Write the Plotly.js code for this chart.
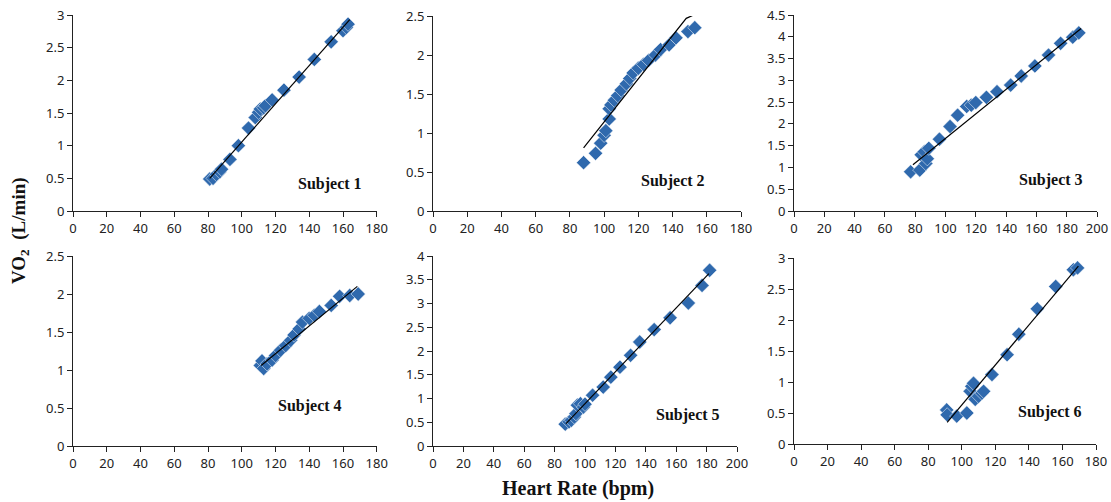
<!DOCTYPE html>
<html>
<head>
<meta charset="utf-8">
<script src="https://cdn.plot.ly/plotly-3.0.1.min.js"></script>
<style>html,body{margin:0;padding:0;background:#fff;}#chart{width:1111px;height:502px;}</style>
</head>
<body>
<div id="chart"></div>
<script>
// Subject 1
var s1HR = [81, 83, 85, 87, 88, 93, 98, 104, 108, 110, 111, 113, 114, 118, 125, 134, 143, 153, 160, 162, 163];
var s1VO2 = [0.49, 0.50, 0.56, 0.60, 0.64, 0.79, 1.00, 1.27, 1.43, 1.51, 1.56, 1.58, 1.61, 1.70, 1.85, 2.05, 2.32, 2.59, 2.76, 2.81, 2.86];
var s1FitHR = [81, 164];
var s1FitVO2 = [0.50, 2.93];
// Subject 2
var s2HR = [88, 95, 98, 100, 101, 103, 103, 104, 106, 108, 110, 113, 115, 117, 120, 123, 126, 130, 133, 138, 142, 149, 153];
var s2VO2 = [0.62, 0.74, 0.87, 0.97, 1.03, 1.18, 1.31, 1.36, 1.42, 1.48, 1.55, 1.63, 1.70, 1.77, 1.83, 1.88, 1.93, 2.00, 2.07, 2.13, 2.22, 2.30, 2.35];
var s2FitHR = [88, 148, 152];
var s2FitVO2 = [0.81, 2.47, 2.51];
// Subject 3
var s3HR = [77, 83, 84, 86, 87, 88, 89, 96, 103, 108, 114, 117, 120, 127, 134, 143, 150, 159, 168, 176, 184, 188];
var s3VO2 = [0.90, 0.94, 1.29, 1.36, 1.09, 1.20, 1.44, 1.65, 1.94, 2.20, 2.40, 2.43, 2.49, 2.61, 2.74, 2.89, 3.10, 3.33, 3.58, 3.85, 3.99, 4.09];
var s3FitHR = [78.5, 189.5];
var s3FitVO2 = [1.06, 4.19];
// Subject 4
var s4HR = [111, 112, 113, 115, 118, 120, 123, 126, 129, 131, 134, 136, 140, 143, 146, 153, 158, 164, 169];
var s4VO2 = [1.06, 1.12, 1.02, 1.08, 1.13, 1.19, 1.26, 1.32, 1.39, 1.46, 1.54, 1.63, 1.68, 1.72, 1.77, 1.85, 1.97, 1.98, 2.00];
var s4FitHR = [111.5, 168.5];
var s4FitVO2 = [1.06, 2.10];
// Subject 5
var s5HR = [87, 89.5, 91, 93, 94, 95, 97, 99, 100, 105, 112, 117, 123, 130, 136, 145.5, 156, 168, 177, 182];
var s5VO2 = [0.46, 0.51, 0.54, 0.61, 0.68, 0.86, 0.89, 0.82, 0.88, 1.07, 1.24, 1.45, 1.66, 1.91, 2.19, 2.45, 2.70, 3.01, 3.38, 3.70];
var s5FitHR = [87.5, 181.5];
var s5FitVO2 = [0.47, 3.63];
// Subject 6
var s6HR = [91, 91.3, 97, 103, 105, 106, 107, 108, 110, 112, 113, 118, 127, 134, 145, 156, 166.5, 169];
var s6VO2 = [0.55, 0.47, 0.45, 0.50, 0.85, 0.93, 0.98, 0.72, 0.77, 0.82, 0.85, 1.12, 1.44, 1.77, 2.18, 2.54, 2.81, 2.84];
var s6FitHR = [91.3, 169.5];
var s6FitVO2 = [0.35, 2.87];

var subjectLabels = ['Subject 1', 'Subject 2', 'Subject 3', 'Subject 4', 'Subject 5', 'Subject 6'];
var xTitle = 'Heart Rate (bpm)';
var yTitle = 'VO<sub>2</sub>  (L/min)';

var W = 1111, H = 502;
function px(x){ return x / W; }
function py(y){ return 1 - y / H; }

var panels = [
  {hr: s1HR, vo: s1VO2, fx: s1FitHR, fy: s1FitVO2, x0: 73, x1: 376.75, xmax: 180, y0: 211, y1: 15, ymax: 3, lx: 330, ly: 184},
  {hr: s2HR, vo: s2VO2, fx: s2FitHR, fy: s2FitVO2, x0: 433, x1: 741, xmax: 180, y0: 211, y1: 16, ymax: 2.5, lx: 673, ly: 181},
  {hr: s3HR, vo: s3VO2, fx: s3FitHR, fy: s3FitVO2, x0: 794, x1: 1097, xmax: 200, y0: 211, y1: 15, ymax: 4.5, lx: 1051, ly: 180},
  {hr: s4HR, vo: s4VO2, fx: s4FitHR, fy: s4FitVO2, x0: 73, x1: 376.75, xmax: 180, y0: 446, y1: 256, ymax: 2.5, lx: 310, ly: 406},
  {hr: s5HR, vo: s5VO2, fx: s5FitHR, fy: s5FitVO2, x0: 433, x1: 737, xmax: 200, y0: 446, y1: 256, ymax: 4, lx: 688, ly: 415},
  {hr: s6HR, vo: s6VO2, fx: s6FitHR, fy: s6FitVO2, x0: 794, x1: 1096, xmax: 180, y0: 444, y1: 258, ymax: 3, lx: 1050, ly: 412}
];

var tickFont = {family: 'Noto Sans, DejaVu Sans, sans-serif', size: 13, color: '#222'};
var data = [];
var layout = {
  width: W, height: H,
  margin: {l: 0, r: 0, t: 0, b: 0},
  paper_bgcolor: '#fff', plot_bgcolor: 'rgba(0,0,0,0)',
  showlegend: false,
  annotations: []
};

panels.forEach(function(p, i){
  var n = i + 1;
  var xa = 'x' + (n === 1 ? '' : n), ya = 'y' + (n === 1 ? '' : n);
  data.push({
    type: 'scatter', mode: 'markers', x: p.hr, y: p.vo, xaxis: xa, yaxis: ya,
    marker: {symbol: 'diamond', size: 11, color: '#2f69ad', line: {color: '#ffffff', width: 0.5}},
    cliponaxis: false, hoverinfo: 'skip'
  });
  data.push({
    type: 'scatter', mode: 'lines', x: p.fx, y: p.fy, xaxis: xa, yaxis: ya,
    line: {color: '#000', width: 1.2}, hoverinfo: 'skip', cliponaxis: false
  });
  layout['xaxis' + (n === 1 ? '' : n)] = {
    domain: [px(p.x0), px(p.x1)], range: [0, p.xmax], dtick: 20, tick0: 0,
    anchor: ya, showgrid: false, zeroline: false, showline: true, linecolor: '#222', linewidth: 1,
    ticks: 'outside', ticklen: 5, tickcolor: '#222', tickfont: tickFont, fixedrange: true
  };
  layout['yaxis' + (n === 1 ? '' : n)] = {
    domain: [py(p.y0), py(p.y1)], range: [0, p.ymax], dtick: 0.5, tick0: 0,
    anchor: xa, showgrid: false, zeroline: false, showline: true, linecolor: '#222', linewidth: 1,
    ticks: 'outside', ticklen: 5, tickcolor: '#222', tickfont: tickFont, fixedrange: true
  };
  layout.annotations.push({
    xref: 'paper', yref: 'paper', x: px(p.lx), y: py(p.ly), xanchor: 'center', yanchor: 'middle',
    text: '<b>' + subjectLabels[i] + '</b>', showarrow: false,
    font: {family: 'Liberation Serif, Times New Roman, serif', size: 16, color: '#111'}
  });
});

layout.annotations.push({
  xref: 'paper', yref: 'paper', x: px(578), y: py(488), xanchor: 'center', yanchor: 'middle',
  text: '<b>' + xTitle + '</b>', showarrow: false,
  font: {family: 'Liberation Serif, Times New Roman, serif', size: 20, color: '#111'}
});
layout.annotations.push({
  xref: 'paper', yref: 'paper', x: px(20), y: py(231), xanchor: 'center', yanchor: 'middle',
  text: '<b>' + yTitle + '</b>', showarrow: false, textangle: -90,
  font: {family: 'Liberation Serif, Times New Roman, serif', size: 19, color: '#111'}
});

Plotly.newPlot('chart', data, layout, {displayModeBar: false, staticPlot: true});
</script>
</body>
</html>
